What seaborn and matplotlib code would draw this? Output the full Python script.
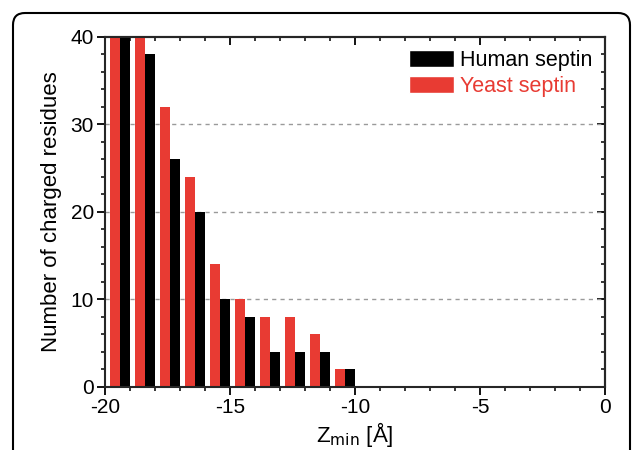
import matplotlib
matplotlib.use("Agg")
import matplotlib.pyplot as plt
from matplotlib.patches import FancyBboxPatch, Patch
from matplotlib.ticker import MultipleLocator
import pandas as pd
import seaborn as sns

# bin centres of Z_min (A) and counts per bin
zmin = [-19.4, -18.4, -17.4, -16.4, -15.4, -14.4, -13.4, -12.4, -11.4, -10.4]
human = [46, 38, 26, 20, 10, 8, 4, 4, 4, 2]
yeast = [50, 44, 32, 24, 14, 10, 8, 8, 6, 2]
labels = ["Human septin", "Yeast septin"]

red = "#e83b33"
colors = {"Yeast septin": red, "Human septin": "black"}

df = pd.concat([
    pd.DataFrame({"zmin": zmin, "count": yeast, "group": "Yeast septin"}),
    pd.DataFrame({"zmin": zmin, "count": human, "group": "Human septin"}),
])

sns.set_style("ticks")
plt.rcParams["font.family"] = ["Liberation Sans", "DejaVu Sans"]
plt.rcParams["axes.unicode_minus"] = False
plt.rcParams["text.color"] = "black"
plt.rcParams["axes.labelcolor"] = "black"
plt.rcParams["xtick.color"] = "black"
plt.rcParams["ytick.color"] = "black"

fig = plt.figure(figsize=(6.33, 4.5), dpi=100)
ax = fig.add_axes([0.166, 0.14, 0.79, 0.778])

sns.barplot(data=df, x="zmin", y="count", hue="group", native_scale=True,
            hue_order=["Yeast septin", "Human septin"], palette=colors,
            saturation=1, linewidth=0, width=0.8, ax=ax, legend=False, zorder=2)

ax.set_xlim(-20, 0)
ax.set_ylim(0, 40)
ax.xaxis.set_major_locator(MultipleLocator(5))
ax.xaxis.set_minor_locator(MultipleLocator(1))
ax.yaxis.set_major_locator(MultipleLocator(10))
ax.yaxis.set_minor_locator(MultipleLocator(2))
ax.tick_params(which="major", direction="out", length=6, width=1.3, labelsize=15, pad=2)
ax.tick_params(which="minor", direction="out", length=3, width=1.1)

# mirrored ticks on top and right, pointing inward
secx = ax.secondary_xaxis("top")
secx.xaxis.set_major_locator(MultipleLocator(5))
secx.xaxis.set_minor_locator(MultipleLocator(1))
secx.tick_params(which="major", direction="in", length=6, width=1.3, labeltop=False)
secx.tick_params(which="minor", direction="in", length=3, width=1.1)
secx.spines["top"].set_linewidth(1.5)

secy = ax.secondary_yaxis("right")
secy.yaxis.set_major_locator(MultipleLocator(10))
secy.yaxis.set_minor_locator(MultipleLocator(2))
secy.tick_params(which="major", direction="in", length=6, width=1.3, labelright=False)
secy.tick_params(which="minor", direction="in", length=3, width=1.1)
secy.spines["right"].set_linewidth(1.5)

for s in ax.spines.values():
    s.set_linewidth(1.5)
    s.set_zorder(5)

for yv in [10, 20, 30]:
    ax.axhline(yv, color="#9a9a9a", lw=1, ls=(0, (3, 3)), zorder=1)

ax.set_xlabel("Z$_{\\mathrm{min}}$ [Å]", fontsize=16, labelpad=2)
ax.set_ylabel("Number of charged residues", fontsize=16, labelpad=6)

handles = [Patch(facecolor="black"), Patch(facecolor=red)]
leg = ax.legend(handles, labels, loc="upper right", frameon=False, fontsize=15.5,
                handlelength=2.1, handleheight=0.85, handletextpad=0.25,
                labelspacing=0.25, borderaxespad=0.2)
leg.get_texts()[1].set_color(red)

# rounded frame around the figure, cut off at the bottom
frame = FancyBboxPatch((13, -60), 617, 497, boxstyle="round,pad=0,rounding_size=12",
                       transform=matplotlib.transforms.IdentityTransform(),
                       fill=False, ec="black", lw=1.5)
fig.patches.append(frame)

fig.savefig("out.png", dpi=100)
